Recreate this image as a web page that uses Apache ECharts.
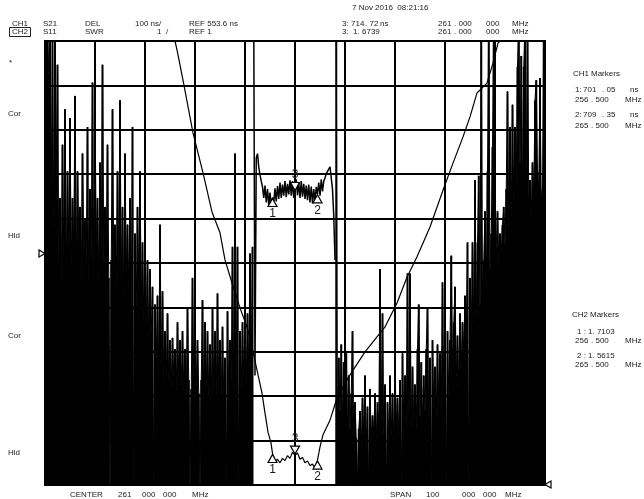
<!DOCTYPE html>
<html>
<head>
<meta charset="utf-8">
<script src="https://cdn.jsdelivr.net/npm/echarts@6/dist/echarts.min.js"></script>
<style>
html,body{margin:0;padding:0;background:#fff}
#chart{width:644px;height:499px}
</style>
</head>
<body>
<div id="chart"></div>
<script>
// sweep: CENTER 261 MHz, SPAN 100 MHz, 0.25 MHz per point
const sweepStep = 0.25

// CH1  S21 group delay (ns) -- noise below the passband
const delayLeftStart = 211
const delayLeft = [
  1100, 1100, 1090, 980, 1080, 720, 1060, 640, 1060, 760,
  1000, 560, 700, 520, 820, 580, 900, 540, 760, 600,
  880, 560, 700, 600, 930, 540, 760, 620, 680, 520,
  800, 580, 650, 560, 860, 520, 720, 580, 960, 540,
  900, 600, 700, 520, 780, 580, 1000, 560, 680, 590,
  820, 520, 40, 560, 900, 540, 640, 500, 760, 560,
  920, 520, 680, 480, 800, 540, 640, 500, 700, 460,
  860, 40, 620, 460, 680, 500, 760, 470, 600, 430,
  640, 420, 560, 380, 540, 400, 500, 40, 460, 340,
  480, 310, 640, 330, 490, 290, 400, 300, 440, 290,
  380, 280, 385, 300, 360, 270, 420, 300, 380, 280,
  400, 270, 360, 260, 450, 290, 40, 270, 520, 300,
  420, 280, 380, 260, 40, 290, 470, 250, 420, 280,
  400, 260, 370, 250, 450, 280, 400, 260, 485, 270,
  380, 260, 410, 250, 340, 40, 445, 260, 380, 290,
  590, 270, 800, 300, 590, 40, 400, 280, 420, 300,
  420, 290, 440, 320, 575, 340, 590
]
// CH1 passband
const delayBandStart = 252.75
const delayBand = [
  1100, 300, 790, 800, 770, 752, 738, 725, 700, 728,
  690, 720, 684, 712, 680, 701, 690, 722, 692, 727,
  698, 735, 700, 730, 705, 738, 702, 732, 708, 740,
  705, 738, 700, 715, 742, 706, 735, 700, 738, 703,
  732, 698, 728, 695, 730, 690, 726, 688, 720, 692,
  725, 709, 735, 705, 742, 715, 738, 745, 755, 760,
  765, 770, 745, 720, 660, 560
]
// CH1 noise above the passband
const delayRightStart = 269.25
const delayRight = [
  1100,
  150, 340, 220, 370, 200, 330, 240, 350, 190, 300,
  180, 260, 400, 150, 240, 160, 60, 180, 220, 140,
  250, 170, 300, 150, 230, 40, 270, 160, 210, 170,
  260, 160, 240, 180, 540, 200, 440, 170, 280, 40,
  240, 160, 300, 170, 260, 150, 330, 190, 250, 170,
  290, 40, 350, 200, 300, 180, 530, 220, 530, 190,
  320, 200, 280, 180, 360, 460, 210, 330, 200, 300,
  220, 360, 450, 210, 340, 40, 380, 230, 320, 210,
  370, 240, 350, 230, 510, 270, 440, 40, 400, 260,
  380, 570, 320, 420, 500, 300, 390, 280, 440, 320,
  420, 360, 480, 380, 600, 40, 520, 400, 600, 420,
  740, 440, 600, 750, 460, 1100, 480, 560, 670, 500,
  760, 1100, 540, 620, 815, 1100, 520, 590, 670, 560,
  620, 580, 640, 680, 600, 720, 940, 640, 860, 660,
  910, 700, 860, 740, 995, 1100, 780, 1020, 720, 995,
  1100, 760, 1100, 700, 740, 660, 780, 700, 920, 965,
  760, 720, 970, 700, 720, 1100, 1100
]

// CH2  S11 SWR
const swrFreq = [
  211, 237, 237.4, 238.6, 240.6, 242.6, 244.4, 246, 247, 248.4,
  250, 251.4, 252.4, 253.4, 254.4, 255, 255.6, 256.2, 256.5, 257,
  257.5, 258, 258.5, 259, 259.5, 260, 260.5, 261, 261.5, 262,
  262.5, 263, 263.5, 264, 264.5, 265, 265.5, 266, 266.6, 268,
  269.4, 272, 275, 279, 281.4, 283.4, 285.4, 288, 290.6, 292.6,
  294.6, 296, 297.4, 299.4, 300.6, 301.6, 302, 311
]
const swrValue = [
  11, 11, 10.8, 10.12, 8.93, 8.03, 7.15, 6.68, 6.07, 5.55,
  4.99, 4.56, 4.11, 3.59, 3.07, 2.62, 2.19, 1.95, 1.71, 1.52,
  1.58, 1.5, 1.6, 1.55, 1.66, 1.6, 1.74, 1.67, 1.72, 1.58,
  1.62, 1.5, 1.54, 1.44, 1.47, 1.38, 1.56, 1.86, 2.13, 2.46,
  2.96, 3.48, 4.0, 4.56, 5.1, 5.68, 6.14, 6.81, 7.64, 8.25,
  8.84, 9.29, 9.83, 10.05, 10.5, 10.95, 11, 11
]

// markers 1, 2, 3
const markerFreq = [256.5, 265.5, 261.0]
const delayMarker = [701.05, 709.35, 714.72]
const swrMarker = [1.7103, 1.5615, 1.6739]

const FONT = '8px "Liberation Sans", Arial, sans-serif'

function sweep(start, values) {
  return values.map((v, i) => [start + i * sweepStep, v])
}

function markers(values) {
  return values.map((v, i) => {
    const active = i === 2 // marker 3 is drawn upside down
    return {
      coord: [markerFreq[i], v],
      symbol: 'triangle',
      symbolSize: [9, 8],
      symbolRotate: active ? 180 : 0,
      symbolOffset: [0, active ? -5 : 5],
      itemStyle: { color: '#fff', borderColor: '#000', borderWidth: 1.2 },
      label: {
        show: true,
        formatter: String(i + 1),
        position: active ? 'top' : 'bottom',
        distance: 1,
        color: '#222',
        font: FONT
      }
    }
  })
}

// one row of text: list of [x, string] pieces
function row(y, pieces) {
  return pieces.map(p => ({
    type: 'text', x: p[0], y: y, silent: true,
    style: { text: p[1], font: FONT, fill: '#222', textVerticalAlign: 'middle' }
  }))
}

const noise = sweep(delayLeftStart, delayLeft).concat(sweep(delayRightStart, delayRight))

const chart = echarts.init(document.getElementById('chart'))

const option = {
  animation: false,
  backgroundColor: '#fff',
  grid: { left: 45, top: 41, width: 500, height: 444, show: true, borderColor: '#000', borderWidth: 2 },
  xAxis: {
    type: 'value', min: 211, max: 311, interval: 10,
    axisLine: { show: false }, axisTick: { show: false }, axisLabel: { show: false },
    splitLine: { show: true, lineStyle: { color: '#000', width: 2 } }
  },
  yAxis: [
    {
      type: 'value', min: 1, max: 11, interval: 1,
      axisLine: { show: false }, axisTick: { show: false }, axisLabel: { show: false },
      splitLine: { show: true, lineStyle: { color: '#000', width: 2 } }
    },
    { type: 'value', min: 53.6, max: 1053.6, show: false, splitLine: { show: false } }
  ],
  series: [
    {
      name: 'CH1 noise', type: 'bar', yAxisIndex: 1, data: noise,
      barWidth: 2, itemStyle: { color: '#000' }
    },
    {
      name: 'CH1 left', type: 'line', yAxisIndex: 1, data: sweep(delayLeftStart, delayLeft),
      symbol: 'none', lineStyle: { color: '#000', width: 1 }
    },
    {
      name: 'CH1', type: 'line', yAxisIndex: 1, data: sweep(delayBandStart, delayBand),
      symbol: 'none', lineStyle: { color: '#000', width: 1.5 },
      markPoint: { data: markers(delayMarker) }
    },
    {
      name: 'CH1 right', type: 'line', yAxisIndex: 1, data: sweep(delayRightStart, delayRight),
      symbol: 'none', lineStyle: { color: '#000', width: 1 }
    },
    {
      name: 'CH2', type: 'line', yAxisIndex: 0, data: swrFreq.map((f, i) => [f, swrValue[i]]),
      symbol: 'none', clip: false, lineStyle: { color: '#000', width: 1.2 },
      markPoint: { data: markers(swrMarker) }
    }
  ],
  graphic: [].concat(
    row(8, [[352, '7 Nov 2016  08:21:16']]),
    row(24, [[12, 'CH1'], [43, 'S21'], [85, 'DEL'], [135, '100 ns/'], [189, 'REF 553.6 ns'],
             [342, '3:'], [351, '714'], [365, '. 72'], [380, 'ns'],
             [438, '261'], [454, '. 000'], [486, '000'], [512, 'MHz']]),
    row(32, [[12, 'CH2'], [43, 'S11'], [85, 'SWR'], [157, '1  /'], [189, 'REF 1'],
             [342, '3:  1. 6739'], [438, '261'], [454, '. 000'], [486, '000'], [512, 'MHz']]),
    [{ type: 'rect', shape: { x: 9.5, y: 27.5, width: 21, height: 9 }, style: { fill: 'none', stroke: '#222', lineWidth: 1 } }],
    row(63, [[9, '*']]),
    row(114, [[8, 'Cor']]), row(236, [[8, 'Hld']]), row(336, [[8, 'Cor']]), row(453, [[8, 'Hld']]),
    row(74, [[573, 'CH1'], [591, 'Markers']]),
    row(90, [[575, '1:'], [583, '701'], [602, '. 05'], [630, 'ns']]),
    row(100, [[575, '256'], [591, '. 500'], [625, 'MHz']]),
    row(115, [[575, '2:'], [583, '709'], [602, '. 35'], [630, 'ns']]),
    row(126, [[575, '265'], [591, '. 500'], [625, 'MHz']]),
    row(315, [[572, 'CH2'], [590, 'Markers']]),
    row(332, [[577, '1 :'], [588, '1. 7103']]),
    row(341, [[575, '256'], [591, '. 500'], [625, 'MHz']]),
    row(356, [[577, '2 :'], [588, '1. 5615']]),
    row(365, [[575, '265'], [591, '. 500'], [625, 'MHz']]),
    row(495, [[70, 'CENTER'], [118, '261'], [142, '000'], [163, '000'], [192, 'MHz'],
              [390, 'SPAN'], [426, '100'], [462, '000'], [483, '000'], [505, 'MHz']]),
    [
      { type: 'polygon', shape: { points: [[39, 250], [45, 253.5], [39, 257]] }, style: { fill: '#fff', stroke: '#000', lineWidth: 1.2 } },
      { type: 'polygon', shape: { points: [[551, 481], [545, 484.5], [551, 488]] }, style: { fill: '#fff', stroke: '#000', lineWidth: 1.2 } }
    ]
  )
}

chart.setOption(option)
</script>
</body>
</html>
